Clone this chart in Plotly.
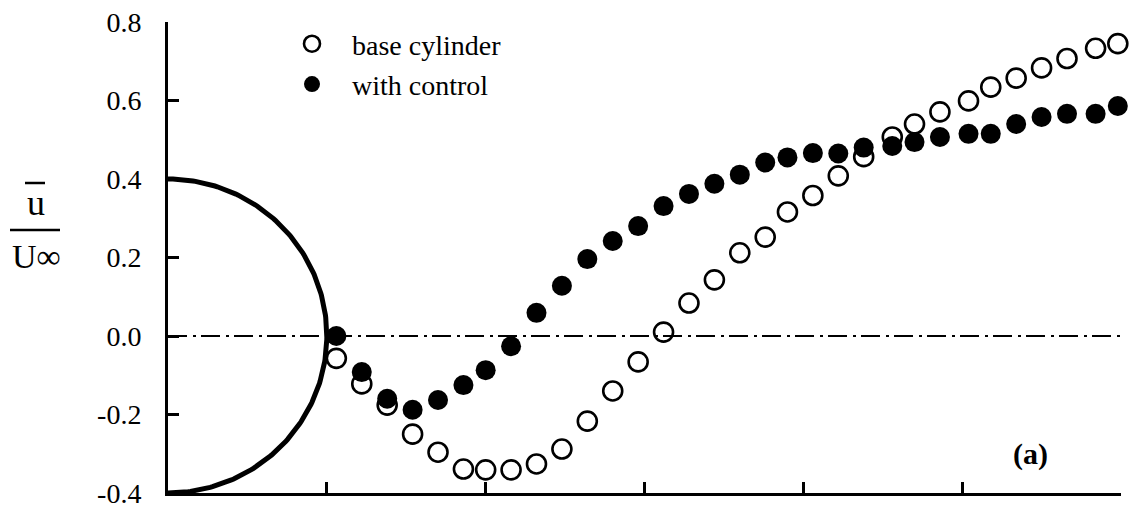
import numpy as np
import plotly.graph_objects as go

# ---- data ----
x_over_d = [0.53, 0.61, 0.69, 0.77, 0.85, 0.93, 1.00, 1.08, 1.16, 1.24, 1.32, 1.40,
            1.48, 1.56, 1.64, 1.72, 1.80, 1.88, 1.95, 2.03, 2.11, 2.19, 2.28, 2.35,
            2.43, 2.52, 2.59, 2.67, 2.75, 2.83, 2.92, 2.99]
u_base = [-0.057, -0.122, -0.176, -0.250, -0.296, -0.339, -0.341, -0.341, -0.326, -0.288,
          -0.217, -0.140, -0.066, 0.010, 0.084, 0.143, 0.212, 0.252, 0.316, 0.358,
          0.408, 0.457, 0.507, 0.540, 0.571, 0.599, 0.634, 0.657, 0.683, 0.707,
          0.733, 0.745]
u_control = [0.000, -0.092, -0.160, -0.188, -0.163, -0.125, -0.087, -0.026, 0.059, 0.128,
             0.196, 0.242, 0.280, 0.331, 0.362, 0.388, 0.411, 0.442, 0.455, 0.466,
             0.465, 0.480, 0.484, 0.494, 0.507, 0.515, 0.515, 0.540, 0.558, 0.566,
             0.566, 0.586]
series_names = ["base cylinder", "with control"]
y_tickvals = [-0.4, -0.2, 0.0, 0.2, 0.4, 0.6, 0.8]
y_ticktext = ["-0.4", "-0.2", "0.0", "0.2", "0.4", "0.6", "0.8"]
x_tickvals = [0.0, 0.5, 1.0, 1.5, 2.0, 2.5, 3.0]
x_range = [0.0, 3.0]
y_range = [-0.4, 0.8]

# cylinder outline (half circle in the figure's scaled coordinates)
cyl_rx = 0.5
cyl_ry = 0.4

# page body has an 8px margin -> figure is drawn 8px in from the window corner
OFF = 8
W, H = 1144 - OFF, 508 - OFF
# desired plot-area edges in window pixels
L, R, T, B = 168, 1121, 22, 493
PW, PH = R - L, B - T


def px_x(p):
    return (p - L) / PW


def px_y(p):
    return (B - p) / PH


SERIF = "Liberation Serif, Times New Roman, serif"

fig = go.Figure()

theta = np.linspace(-np.pi / 2, np.pi / 2, 200)
fig.add_trace(go.Scatter(x=cyl_rx * np.cos(theta), y=cyl_ry * np.sin(theta), mode="lines",
                         line=dict(color="black", width=5), showlegend=False,
                         hoverinfo="skip", cliponaxis=False))
fig.add_trace(go.Scatter(x=[x_range[0], x_range[1] + 0.01], y=[0, 0], mode="lines",
                         line=dict(color="black", width=1.8, dash="19px,6px,3px,5px"),
                         showlegend=False, hoverinfo="skip", cliponaxis=False))

fig.add_trace(go.Scatter(x=x_over_d, y=u_base, mode="markers", name=series_names[0],
                         legendgroup="a", cliponaxis=False,
                         marker=dict(symbol="circle-open", size=19, color="black",
                                     line=dict(width=2.6, color="black"))))
fig.add_trace(go.Scatter(x=x_over_d, y=u_control, mode="markers", name=series_names[1],
                         legendgroup="b", cliponaxis=False,
                         marker=dict(symbol="circle", size=20, color="black")))

fig.update_layout(
    width=W, height=H,
    margin=dict(l=L - OFF, r=W - (R - OFF), t=T - OFF, b=H - (B - OFF), pad=0,
                autoexpand=False),
    paper_bgcolor="white", plot_bgcolor="white",
    font=dict(family=SERIF, color="black", size=28),
    showlegend=True,
    legend=dict(x=px_x(272), y=px_y(19), xanchor="left", yanchor="top",
                bgcolor="rgba(0,0,0,0)", borderwidth=0, itemwidth=70,
                traceorder="grouped", tracegroupgap=1,
                font=dict(family=SERIF, size=28, color="black")),
    xaxis=dict(range=x_range, showgrid=False, zeroline=False, showline=True,
               automargin=False,
               linecolor="black", linewidth=3, ticks="inside", tickvals=x_tickvals,
               ticklen=11, tickwidth=2.5, tickcolor="black", showticklabels=False),
    yaxis=dict(range=y_range, showgrid=False, zeroline=False, showline=True,
               automargin=False, ticklabeloverflow="allow",
               linecolor="black", linewidth=3, ticks="inside", tickvals=y_tickvals,
               ticktext=y_ticktext, ticklen=11, tickwidth=2.5, tickcolor="black",
               ticklabelstandoff=18,
               tickfont=dict(family=SERIF, size=28, color="black")),
)

# y-axis title: u-bar over U_inf
fig.add_annotation(x=px_x(36), y=px_y(203), xref="paper", yref="paper", text="u",
                   showarrow=False, xanchor="center", yanchor="middle",
                   font=dict(family=SERIF, size=36, color="black"))
fig.add_annotation(x=px_x(36), y=px_y(256), xref="paper", yref="paper", text="U∞",
                   showarrow=False, xanchor="center", yanchor="middle",
                   font=dict(family=SERIF, size=34, color="black"))
fig.add_shape(type="line", xref="paper", yref="paper", x0=px_x(25), x1=px_x(45),
              y0=px_y(183), y1=px_y(183), line=dict(color="black", width=2.5))
fig.add_shape(type="line", xref="paper", yref="paper", x0=px_x(10), x1=px_x(60),
              y0=px_y(230), y1=px_y(230), line=dict(color="black", width=2.5))

fig.add_annotation(x=px_x(1030), y=px_y(454), xref="paper", yref="paper",
                   text="<b>(a)</b>", showarrow=False, xanchor="center", yanchor="middle",
                   font=dict(family=SERIF, size=30, color="black"))

fig.write_html("out.html")
